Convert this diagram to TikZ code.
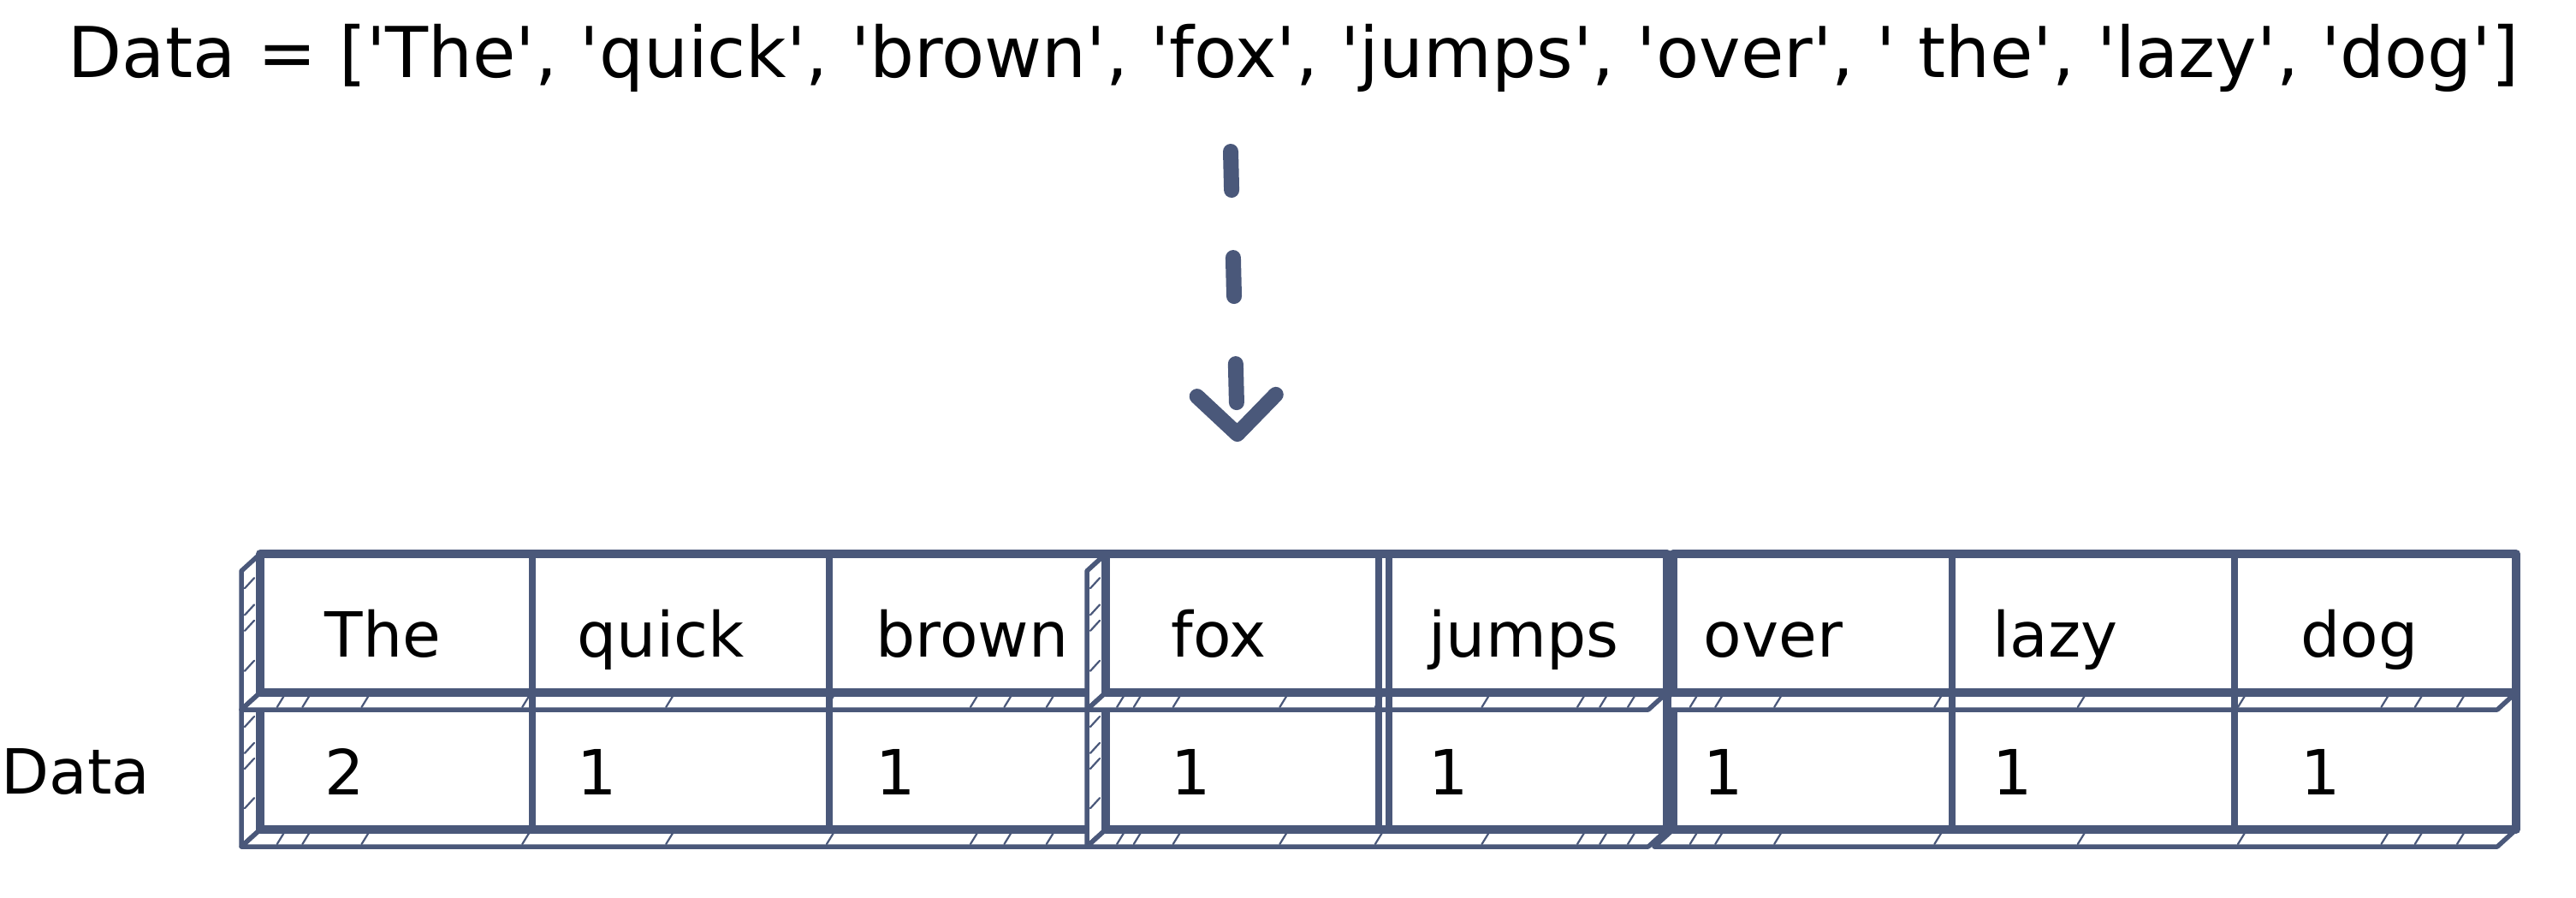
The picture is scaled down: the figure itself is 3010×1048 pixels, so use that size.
\documentclass[tikz,border=0pt]{standalone}
\usepackage{fontspec}
\setmainfont{DejaVu Sans}
\newfontfamily\plainfont{DejaVu Sans}
\usetikzlibrary{arrows.meta}
\definecolor{inkblue}{HTML}{4A587A}

% one row of cells seen as a box: x from #1 to #2, y from #3 to #4
\newcommand{\drawstrip}[4]{%
    % left face
    \filldraw[backline] (#1,#3) -- ({#1-22},{#3+20}) -- ({#1-22},{#4+20}) -- (#1,#4) -- cycle;
    \foreach \f in {0.1,0.32,0.45,0.78}
        \draw[hatch] ({#1-18},{#3+26+\f*(#4-#3-20)}) -- ++(11,-12);
    % bottom face
    \filldraw[backline] (#1,#4) -- ({#1-22},{#4+20}) -- ({#2-22},{#4+20}) -- (#2,#4) -- cycle;
    \foreach \f in {0.02,0.05,0.12,0.31,0.48,0.67,0.84,0.88,0.93}
        \draw[hatch] ({#1+\f*(#2-#1)},{#4+17}) -- ++(8,-13);
    % front face
    \filldraw[frontline] (#1,#3) rectangle (#2,#4);
}

\begin{document}
\begin{tikzpicture}[
        x=0.01cm, y=-0.01cm,
        frontline/.style={draw=inkblue, fill=white, line width=0.1cm, line join=round},
        backline/.style={draw=inkblue, fill=white, line width=0.055cm, line join=round},
        hatch/.style={draw=inkblue, line width=0.022cm, line cap=round},
        divider/.style={draw=inkblue, line width=0.075cm},
        celltext/.style={font=\plainfont\fontsize{20.7pt}{24pt}\selectfont, anchor=base west, inner sep=0pt},
        titletext/.style={font=\plainfont\fontsize{23.3pt}{28pt}\selectfont, anchor=base west, inner sep=0pt},
        flowarrow/.style={draw=inkblue, line width=0.18cm, line cap=round,
            dash pattern=on 0.45cm off 0.79cm,
            -{Straight Barb[length=0.45cm, width=0.92cm, line cap=round, line join=round]}}]
        \useasboundingbox (0,0) rectangle (3010,1048);

        % TABLE
        % block The / quick / brown
        \drawstrip{304}{1292}{809}{969}
        \drawstrip{304}{1292}{647}{809}
        % block over / lazy / dog
        \drawstrip{1955}{2940}{809}{969}
        \drawstrip{1955}{2940}{647}{809}
        % block fox / jumps
        \drawstrip{1292}{1948}{809}{969}
        \drawstrip{1292}{1948}{647}{809}
        % column lines
        \foreach \x in {622,969,1611,1623,2281,2611}
            \draw[divider] (\x,647) -- (\x,969);

        % NODES
        % list above
        \node[titletext] (title) at (79,90)
            {Data = ['The', 'quick', 'brown', 'fox', 'jumps', 'over', ' the', 'lazy', 'dog']};
        % row label
        \node[celltext] (rowlabel) at (1,927) {Data};
        % words and counts
        \foreach \x/\w/\n [count=\i] in {379/The/2, 674/quick/1, 1023/brown/1, 1368/fox/1,
                1669/jumps/1, 1990/over/1, 2328/lazy/1, 2688/dog/1} {
            \node[celltext] (word\i) at (\x,767) {\w};
            \node[celltext] (count\i) at (\x,928) {\n};
        }

        % ARROWS
        \coordinate (arrowstart) at (1438,177);
        \coordinate (arrowend) at (1446,516);
        \draw[flowarrow] (arrowstart) -- (arrowend);
    \end{tikzpicture}
\end{document}
